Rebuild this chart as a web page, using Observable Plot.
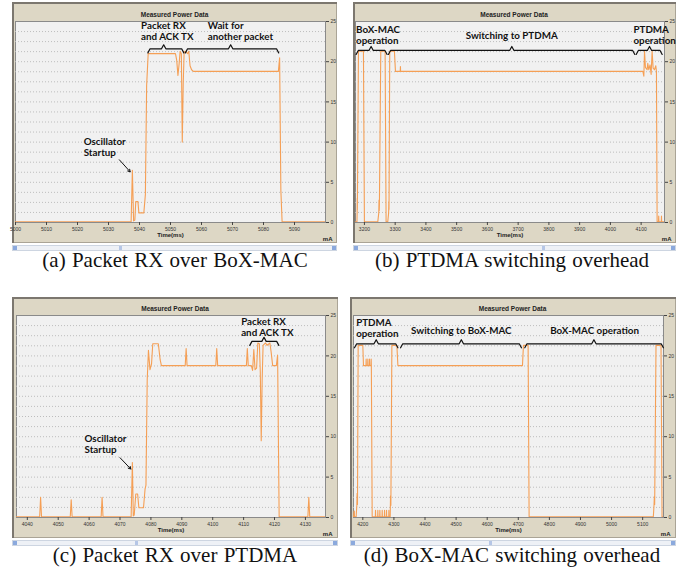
<!DOCTYPE html>
<html><head><meta charset="utf-8">
<script src="https://cdn.jsdelivr.net/npm/d3@7"></script>
<script src="https://cdn.jsdelivr.net/npm/@observablehq/plot@0.6"></script>
<style>
body{margin:0;background:#fff;}
#root{position:relative;width:692px;height:570px;overflow:hidden;background:#fff;}
.frame{position:absolute;background:#ddd7c5;box-shadow:inset 2px 2px 0 #7c776f, inset -1px -1px 0 #aaa496;}
.frame svg{display:block;position:absolute;left:0;top:0;}
.scroll{position:absolute;height:6px;background:#eef1f6;border:1px solid #cdd5e1;box-sizing:border-box;}
.scroll .l,.scroll .r{position:absolute;top:0;width:4px;height:4px;background:#8ba9dd;}
.scroll .l{left:0}.scroll .r{right:0}
.scroll .thumb{position:absolute;top:0;width:3px;height:4px;background:#b5c6e6;}
.cap{position:absolute;font-family:"Liberation Serif","Times New Roman",serif;font-size:21px;word-spacing:1px;color:#111;white-space:nowrap;transform:translate(-50%,-50%);}
</style></head>
<body><div id="root"></div>
<script>
// ---------- data ----------
const aTime = [5000, 5037.3, 5037.7, 5038.1, 5038.5, 5038.8, 5039.5, 5039.8, 5041.4, 5041.9, 5042.3, 5042.8, 5051.6, 5052.0, 5052.4, 5052.8, 5053.1, 5053.5, 5053.8, 5054.1, 5054.4, 5054.8, 5055.5, 5055.9, 5056.3, 5056.8, 5057.4, 5084.8, 5085.2, 5085.6, 5086.0, 5100];
const aMA   = [0.1, 0.1, 6.5, 0.2, 0.3, 2.6, 2.6, 1.2, 1.2, 3.5, 17.0, 21.0, 21.0, 20.2, 18.3, 19.8, 21.3, 21.0, 10.0, 17.2, 21.2, 21.3, 21.0, 21.3, 19.5, 19.0, 18.8, 18.8, 20.5, 4.0, 0.1, 0.1];

const bTime = [3171, 3175.8, 3176.3, 3176.6, 3177.0, 3180.6, 3196.8, 3200.0, 3243.5, 3246.7, 3247.5, 3248.2, 3248.8, 3253.2, 3267.3, 3270.5, 3275.9, 3278.8, 3279.4, 3280.0, 3282.4, 3297.6, 3300.9, 3316.5, 3317.1, 3317.7, 4105.6, 4108.8, 4111.0, 4114.0, 4119.5, 4121.6, 4124.8, 4129.0, 4132.5, 4135.7, 4139.0, 4143.4, 4147.7, 4149.8, 4152.0, 4156.5, 4157.2, 4157.9, 4165.5, 4166.2, 4166.9, 4176];
const bMA   = [0.1, 0.1, 1.2, 3.0, 1.6, 21.3, 21.3, 0.1, 0.1, 1.2, 2.8, 1.5, 2.4, 21.3, 21.3, 0.1, 0.1, 1.2, 2.6, 1.6, 21.3, 21.3, 18.8, 18.8, 19.4, 18.8, 18.8, 18.2, 21.3, 19.3, 19.0, 19.8, 19.0, 19.6, 18.4, 21.3, 19.2, 19.0, 19.5, 18.8, 0.1, 0.1, 0.8, 0.1, 0.1, 0.8, 0.1, 0.1];

const cTime = [4036.5, 4044.0, 4044.3, 4044.6, 4053.9, 4054.2, 4054.5, 4063.9, 4064.2, 4064.5, 4073.6, 4074.0, 4074.3, 4074.6, 4075.1, 4075.7, 4076.1, 4077.6, 4078.1, 4078.4, 4078.8, 4079.2, 4079.7, 4080.2, 4080.6, 4082.4, 4083.0, 4083.4, 4091.1, 4091.4, 4091.7, 4101.0, 4101.3, 4101.6, 4110.9, 4111.2, 4111.5, 4112.5, 4112.9, 4113.3, 4113.7, 4114.2, 4114.6, 4115.1, 4115.4, 4115.7, 4116.0, 4116.3, 4117.1, 4117.6, 4118.5, 4118.9, 4119.4, 4120.6, 4121.0, 4121.3, 4121.5, 4130.8, 4131.1, 4131.4, 4136.5];
const cMA   = [0.1, 0.1, 2.5, 0.1, 0.1, 2.2, 0.1, 0.1, 2.5, 0.1, 0.1, 6.8, 0.2, 0.3, 2.9, 2.9, 1.2, 1.2, 3.5, 4.0, 17.0, 20.7, 18.3, 19.0, 21.5, 21.5, 19.5, 18.8, 18.8, 20.9, 18.8, 18.8, 20.9, 18.8, 18.8, 20.9, 18.8, 18.8, 18.2, 20.8, 18.3, 18.5, 21.6, 21.5, 18.0, 9.5, 17.0, 21.3, 21.6, 21.3, 21.6, 20.5, 18.8, 18.8, 20.1, 8.0, 0.1, 0.1, 2.5, 0.1, 0.1];

const dTime = [4170, 4172.0, 4172.6, 4173.2, 4178.5, 4180.7, 4181.7, 4182.8, 4185.0, 4200.0, 4202.1, 4210.2, 4210.7, 4211.2, 4215.6, 4216.1, 4216.6, 4221.0, 4221.5, 4222.0, 4226.4, 4226.9, 4227.4, 4230.1,
  4240.3, 4240.8, 4241.3, 4247.8, 4248.3, 4248.8, 4254.3, 4254.8, 4255.3, 4261.8, 4262.3, 4262.8, 4269.3, 4269.8, 4270.3, 4275.7, 4276.2, 4276.7, 4283.3, 4283.8, 4284.3,
  4288.0, 4289.1, 4290.2, 4293.4, 4309.5, 4312.8, 4713.4, 4716.6, 4731.6, 4734.8, 5134.3, 5136.5, 5137.6, 5138.6, 5142.9, 5159.0, 5162.3, 5167];
const dMA   = [0.1, 0.8, 0.8, 0.1, 0.1, 1.5, 3.0, 1.6, 21.3, 21.3, 18.8, 18.8, 19.6, 18.8, 18.8, 19.6, 18.8, 18.8, 19.6, 18.8, 18.8, 19.6, 18.8, 0.1,
  0.1, 0.9, 0.1, 0.1, 0.9, 0.1, 0.1, 0.9, 0.1, 0.1, 0.9, 0.1, 0.1, 0.9, 0.1, 0.1, 0.9, 0.1, 0.1, 0.9, 0.1,
  0.1, 2.7, 1.5, 21.3, 21.3, 18.8, 18.8, 21.3, 21.3, 0.1, 0.1, 1.5, 2.6, 1.6, 21.3, 21.3, 0.1, 0.1];

const aTicks = [5000, 5010, 5020, 5030, 5040, 5050, 5060, 5070, 5080, 5090];
const bTicks = [3200, 3300, 3400, 3500, 3600, 3700, 3800, 3900, 4000, 4100];
const cTicks = [4040, 4050, 4060, 4070, 4080, 4090, 4100, 4110, 4120, 4130];
const dTicks = [4200, 4300, 4400, 4500, 4600, 4700, 4800, 4900, 5000, 5100];
const yTicks = [0, 5, 10, 15, 20, 25];
const yGrid = [1.25, 2.5, 3.75, 5, 6.25, 7.5, 8.75, 10, 11.25, 12.5, 13.75, 15, 16.25, 17.5, 18.75, 20, 21.25, 22.5, 23.75];

const aDomain = [5000, 5100];
const bDomain = [3171, 4176];
const cDomain = [4036.5, 4136.5];
const dDomain = [4170, 5167];

// annotations: text labels, brackets [start, end, centre, level], arrows
const aLabels = [
  {x: 5040.5, y: 23.8, text: "Packet RX\nand ACK TX", anchor: "start"},
  {x: 5062.0, y: 23.8, text: "Wait for\nanother packet", anchor: "start"},
  {x: 5022.0, y: 9.4, text: "Oscillator\nStartup", anchor: "start"}
];
const aBrackets = [[5042.7, 5054.3, 5047.8, 21.6], [5054.8, 5084.9, 5069.4, 21.6]];
const aArrows = [{x1: 5033.5, y1: 7.8, x2: 5037.0, y2: 6.3}];

const bLabels = [
  {x: 3173, y: 23.3, text: "BoX-MAC\noperation", anchor: "start"},
  {x: 3679, y: 23.3, text: "Switching to PTDMA", anchor: "middle"},
  {x: 4075, y: 23.3, text: "PTDMA\noperation", anchor: "start"}
];
const bBrackets = [[3173, 3273.8, 3221.8, 21.4], [3278, 4079.5, 3679.4, 21.4], [4083.9, 4168.5, 4127.2, 21.4]];
const bArrows = [];

const cLabels = [
  {x: 4109.2, y: 23.6, text: "Packet RX\nand ACK TX", anchor: "start"},
  {x: 4058.5, y: 9.1, text: "Oscillator\nStartup", anchor: "start"}
];
const cBrackets = [[4112.0, 4121.4, 4116.6, 21.8]];
const cArrows = [{x1: 4070.0, y1: 7.4, x2: 4073.5, y2: 6.0}];

const dLabels = [
  {x: 4178.5, y: 23.4, text: "PTDMA\noperation", anchor: "start"},
  {x: 4516.8, y: 23.1, text: "Switching to BoX-MAC", anchor: "middle"},
  {x: 4945.3, y: 23.1, text: "BoX-MAC operation", anchor: "middle"}
];
const dBrackets = [[4173.2, 4312.8, 4243, 21.5], [4321.4, 4710.1, 4516.8, 21.5], [4720.9, 5166.6, 4943.2, 21.5]];
const dArrows = [];

const captions = ["(a) Packet RX over BoX-MAC", "(b) PTDMA switching overhead", "(c) Packet RX over PTDMA", "(d) BoX-MAC switching overhead"];

// ---------- drawing ----------
const ANN_FONT = "Lato, 'Open Sans', sans-serif";
function makePlot(p) {
  const data = p.time.map((t, i) => ({t, v: p.ma[i]}));
  const span = p.domain[1] - p.domain[0];
  const d = span * 0.007, h = 0.5;
  const br = [];
  p.brackets.forEach(([x1, x2, xc, y], k) => {
    [[x1, y - h], [x1 + d, y], [xc - d, y], [xc, y + h], [xc + d, y], [x2 - d, y], [x2, y - h]]
      .forEach(([x, yy]) => br.push({x, y: yy, k}));
  });
  const annText = {x: "x", y: "y", text: "text", lineAnchor: "middle", lineHeight: 1.1, fontFamily: ANN_FONT, fontWeight: "bold", fontSize: 9.8, fill: "#111"};
  return Plot.plot({
    width: p.width, height: p.height,
    marginLeft: p.ml, marginRight: p.mr, marginTop: p.mt, marginBottom: p.mb,
    x: {domain: p.domain},
    y: {domain: [0, 25]},
    style: {background: "transparent", fontFamily: "'Liberation Sans', Arial, sans-serif", fontSize: "5px", color: "#333", overflow: "visible"},
    marks: [
      Plot.frame({fill: "#f1f1f1", stroke: "#8a8a8a", strokeWidth: 1}),
      Plot.ruleY(yGrid, {stroke: "#bdbdbd", strokeDasharray: "1,2", strokeWidth: 1}),
      Plot.axisX(p.ticks, {tickSize: 3, tickPadding: 1.5, tickFormat: v => String(v), label: null, fontSize: 5, stroke: "#444"}),
      Plot.axisY(yTicks, {anchor: "right", tickSize: 3, tickPadding: 2, label: null, fontSize: 5, stroke: "#444"}),
      Plot.line(data, {x: "t", y: "v", stroke: "#f59f55", strokeWidth: 1.1, clip: true}),
      Plot.line(br, {x: "x", y: "y", z: "k", stroke: "#111", strokeWidth: 1.2}),
      Plot.text(p.labels.filter(l => l.anchor === "start"), {...annText, textAnchor: "start"}),
      Plot.text(p.labels.filter(l => l.anchor === "middle"), {...annText, textAnchor: "middle"}),
      Plot.arrow(p.arrows, {x1: "x1", y1: "y1", x2: "x2", y2: "y2", stroke: "#111", strokeWidth: 1, headLength: 4}),
      Plot.text(["Measured Power Data"], {frameAnchor: "top", dx: 4, dy: -9, fontSize: 6.5, fill: "#222", fontWeight: "bold"}),
      Plot.text(["Time(ms)"], {frameAnchor: "bottom", dy: 14.5, fontSize: 6, fill: "#222", fontWeight: "bold"}),
      Plot.text(["mA"], {frameAnchor: "bottom-right", dx: 7, dy: 18.5, fontSize: 6, fill: "#222", fontWeight: "bold"})
    ]
  });
}

const panels = [
  {left: 12, top: 2, width: 325, height: 241, ml: 3, mr: 12, mt: 19, mb: 21, time: aTime, ma: aMA, domain: aDomain, ticks: aTicks, labels: aLabels, brackets: aBrackets, arrows: aArrows, thumb: 106, capX: 175, capY: 260},
  {left: 353, top: 2, width: 323, height: 241, ml: 2, mr: 12, mt: 19, mb: 21, time: bTime, ma: bMA, domain: bDomain, ticks: bTicks, labels: bLabels, brackets: bBrackets, arrows: bArrows, thumb: 188, capX: 512, capY: 260},
  {left: 12, top: 297, width: 326, height: 241, ml: 4, mr: 13, mt: 18, mb: 21, time: cTime, ma: cMA, domain: cDomain, ticks: cTicks, labels: cLabels, brackets: cBrackets, arrows: cArrows, thumb: 122, capX: 175, capY: 555},
  {left: 350, top: 297, width: 326, height: 241, ml: 3, mr: 13, mt: 18, mb: 21, time: dTime, ma: dMA, domain: dDomain, ticks: dTicks, labels: dLabels, brackets: dBrackets, arrows: dArrows, thumb: 138, capX: 512, capY: 555}
];

const root = document.getElementById("root");
panels.forEach((p, i) => {
  const f = document.createElement("div");
  f.className = "frame";
  Object.assign(f.style, {left: p.left + "px", top: p.top + "px", width: p.width + "px", height: p.height + "px"});
  f.appendChild(makePlot(p));
  root.appendChild(f);
  const s = document.createElement("div");
  s.className = "scroll";
  Object.assign(s.style, {left: p.left + "px", top: (p.top + p.height + 2) + "px", width: p.width + "px"});
  s.innerHTML = `<div class="l"></div><div class="thumb" style="left:${p.thumb}px"></div><div class="r"></div>`;
  root.appendChild(s);
  const c = document.createElement("div");
  c.className = "cap";
  c.textContent = captions[i];
  Object.assign(c.style, {left: p.capX + "px", top: p.capY + "px"});
  root.appendChild(c);
});
</script>
</body></html>
